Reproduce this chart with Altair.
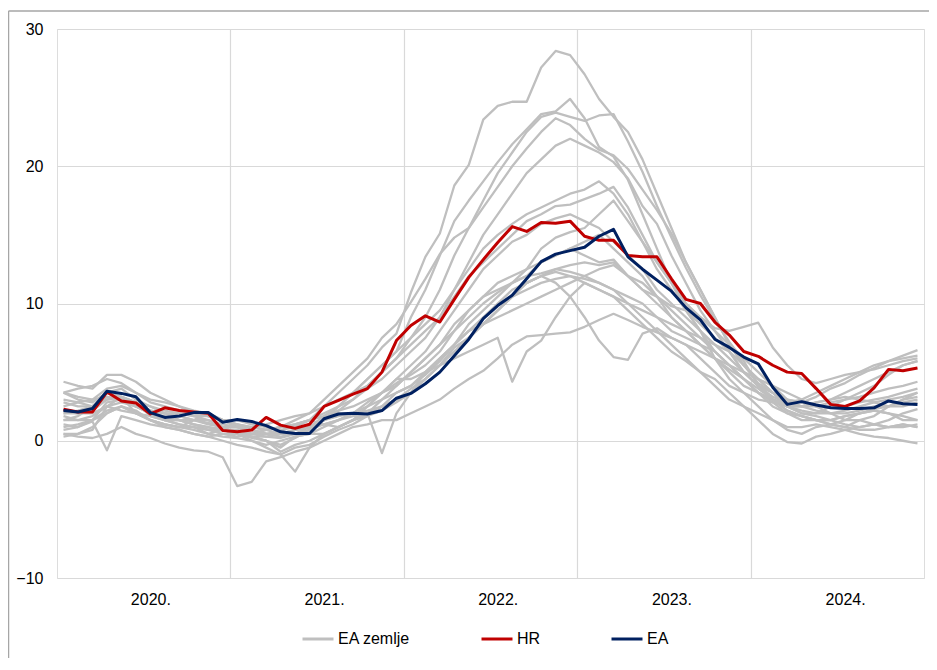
import altair as alt
import pandas as pd

# ---------------- data ----------------
year_labels = ["2020.", "2021.", "2022.", "2023.", "2024."]
series_names = ["EA zemlje", "HR", "EA"]
series_colors = ["#bfbfbf", "#c00000", "#002060"]
y_ticks = [-10, 0, 10, 20, 30]

hr = [2.3, 2.1, 2.1, 3.55, 2.9, 2.75, 1.95, 2.4, 2.2, 2.1, 2.0, 0.75,
      0.65, 0.78, 1.7, 1.14, 0.9, 1.2, 2.5, 2.95, 3.4, 3.8, 5.0, 7.3,
      8.4, 9.1, 8.65, 10.3, 11.9, 13.2, 14.45, 15.6, 15.25, 15.9, 15.85, 16.0,
      14.9, 14.6, 14.6, 13.5, 13.4, 13.4, 11.8, 10.3, 10.0, 8.65, 7.7, 6.5,
      6.15, 5.5, 5.0, 4.9, 3.8, 2.65, 2.5, 2.9, 3.85, 5.2, 5.1, 5.3]

ea = [2.2, 2.1, 2.35, 3.6, 3.45, 3.2, 2.05, 1.7, 1.8, 2.05, 2.05, 1.35,
      1.55, 1.4, 1.1, 0.65, 0.53, 0.53, 1.6, 1.95, 2.0, 1.95, 2.2, 3.1,
      3.45, 4.15, 5.0, 6.2, 7.4, 8.9, 9.85, 10.6, 11.8, 13.05, 13.6, 13.85,
      14.1, 14.9, 15.4, 13.4, 12.5, 11.7, 10.9, 9.7, 8.8, 7.4, 6.8, 6.1,
      5.6, 3.9, 2.65, 2.85, 2.6, 2.4, 2.35, 2.35, 2.4, 2.9, 2.7, 2.65]

ea_c01 = [4.3, 4.0, 3.8, 4.8, 4.8, 4.3, 3.5, 3.0, 2.5, 2.0, 1.8, 1.5,
          1.2, 0.8, 0.5, 0.7, 1.2, 1.5, 2.5, 3.5, 4.5, 5.5, 6.8, 7.8,
          10.8, 13.4, 15.1, 18.6, 20.1, 23.4, 24.4, 24.7, 24.7, 27.2, 28.4, 28.1,
          26.7, 24.9, 23.6, 22.5, 20.5, 18.0, 15.5, 13.0, 11.0, 9.0, 7.0, 5.5,
          4.2, 3.5, 3.0, 2.8, 3.2, 3.8, 4.2, 4.8, 5.3, 5.8, 6.2, 6.6]
ea_c02 = [3.5, 3.2, 3.0, 3.8, 4.0, 3.5, 2.8, 2.5, 2.2, 2.0, 1.8, 1.5,
          1.0, 0.5, 0.3, 0.2, 0.5, 1.0, 1.8, 2.5, 3.5, 4.5, 5.5, 6.5,
          9.0, 11.0, 13.5, 16.0, 17.5, 18.9, 20.3, 21.6, 22.7, 23.8, 24.0, 24.9,
          23.5, 21.4, 20.7, 19.0, 16.5, 14.0, 11.5, 9.5, 8.0, 6.0, 4.5, 3.5,
          2.5, 1.5, 0.8, 0.5, 1.0, 1.2, 1.5, 2.0, 2.3, 2.5, 3.0, 3.5]
ea_c03 = [2.8, 2.5, 2.5, 3.0, 3.2, 2.8, 2.2, 2.0, 1.5, 1.2, 0.8, 0.5,
          0.3, 0.5, 0.8, 1.0, 1.5, 2.0, 3.0, 4.0, 5.0, 6.0, 7.5, 8.5,
          10.1, 11.8, 13.6, 14.8, 15.5, 17.5, 19.5, 21.0, 22.5, 23.6, 23.9, 23.6,
          23.3, 23.7, 23.8, 21.8, 19.6, 17.1, 14.8, 12.6, 10.6, 8.8, 7.2, 5.8,
          4.0, 3.0, 2.2, 1.8, 1.5, 1.2, 1.0, 1.5, 1.8, 2.5, 3.0, 3.2]
ea_c04 = [2.0, 2.2, 2.5, 3.5, 3.8, 3.0, 2.5, 2.0, 1.8, 1.5, 1.3, 1.0,
          0.5, 0.2, 0.0, -0.3, 0.2, 0.8, 1.5, 2.2, 3.0, 4.0, 5.0, 6.0,
          7.5, 9.0, 11.0, 13.5, 15.5, 17.0, 18.5, 20.0, 21.3, 22.5, 23.5, 23.0,
          22.0, 21.2, 20.8, 19.8, 18.3, 16.8, 15.1, 13.0, 11.0, 9.0, 7.0, 5.5,
          4.5, 3.5, 2.5, 2.0, 2.0, 2.5, 3.0, 3.2, 3.5, 3.8, 4.0, 4.3]
ea_c05 = [1.5, 1.5, 1.8, 2.5, 2.8, 2.5, 2.0, 1.8, 1.5, 1.2, 1.0, 0.8,
          0.5, 0.5, 0.8, 1.0, 1.2, 1.5, 2.0, 2.5, 3.0, 3.8, 4.5, 5.5,
          6.5, 7.5, 9.0, 11.0, 13.0, 15.0, 16.5, 18.0, 19.5, 20.5, 21.5, 22.0,
          21.5, 21.0, 20.3, 19.1, 17.1, 15.8, 13.5, 11.5, 9.5, 8.0, 6.5, 5.0,
          4.0, 3.2, 2.8, 2.5, 2.5, 2.8, 3.0, 3.5, 4.0, 4.8, 5.5, 5.8]
ea_c06 = [3.5, 3.8, 4.0, 4.5, 4.2, 3.5, 3.0, 2.8, 2.5, 2.2, 2.0, 1.5,
          1.0, 0.8, 0.5, 0.5, 0.8, 1.0, 1.5, 2.5, 3.5, 4.5, 5.5, 6.5,
          7.5, 8.5, 9.5, 11.0, 12.5, 14.0, 15.0, 15.8, 16.5, 17.0, 17.5, 18.0,
          18.3, 18.9, 18.0, 16.5, 14.5, 12.5, 11.0, 9.5, 8.0, 6.5, 5.5, 4.5,
          3.5, 3.0, 2.8, 3.0, 3.5, 4.0, 4.5, 5.0, 5.5, 5.8, 6.0, 6.2]
ea_c07 = [2.5, 2.8, 3.0, 3.2, 3.0, 2.5, 2.2, 2.0, 2.0, 1.8, 1.5, 1.2,
          1.0, 1.0, 1.2, 1.5, 1.8, 2.0, 2.5, 3.0, 3.5, 4.0, 5.0, 6.0,
          7.0, 8.0, 9.0, 10.5, 12.0, 13.0, 14.0, 15.0, 16.0, 16.5, 17.1, 17.2,
          17.6, 18.0, 18.5, 17.0, 15.0, 13.0, 11.5, 10.0, 9.0, 8.2, 8.0, 8.3,
          8.6, 6.8, 5.5, 4.5, 4.2, 4.5, 4.8, 5.0, 5.2, 5.5, 5.8, 6.0]
ea_c08 = [2.0, 2.0, 2.2, 3.0, 3.2, 2.8, 1.8, 1.5, 1.5, 1.5, 1.5, 1.0,
          1.2, 1.0, 0.8, 0.5, 0.5, 0.8, 1.5, 2.0, 2.0, 2.2, 2.5, 3.5,
          4.0, 4.8, 5.8, 7.0, 8.5, 9.5, 10.5, 11.5, 12.5, 14.0, 14.8, 15.2,
          15.5, 16.5, 17.5, 16.0, 14.5, 13.0, 11.5, 10.0, 9.0, 8.0, 7.0, 6.0,
          5.0, 4.0, 3.0, 2.8, 2.5, 2.5, 2.5, 2.8, 3.0, 3.2, 3.5, 3.8]
ea_c09 = [1.8, 1.5, 1.5, 2.2, 2.5, 2.2, 1.5, 1.2, 1.0, 1.0, 0.8, 0.8,
          0.8, 0.5, 0.5, 0.3, 0.5, 0.8, 1.2, 1.5, 2.0, 2.5, 3.5, 4.5,
          5.5, 6.5, 8.0, 9.5, 11.0, 12.5, 13.5, 14.5, 15.0, 15.8, 16.2, 16.5,
          16.0, 15.5, 14.5, 13.5, 12.5, 11.0, 10.0, 9.0, 8.0, 7.0, 6.0, 5.0,
          4.0, 3.5, 3.0, 2.5, 2.2, 2.0, 2.0, 2.2, 2.5, 2.5, 2.8, 3.0]
ea_c10 = [1.5, 1.8, 2.5, 3.5, 3.2, 2.8, 2.5, 2.2, 2.0, 1.8, 1.8, 1.5,
          1.2, 1.0, 0.8, 1.0, 1.2, 1.5, 1.8, 2.2, 2.5, 3.0, 3.5, 4.2,
          4.8, 5.5, 6.5, 8.0, 9.5, 10.5, 11.0, 11.5, 12.0, 13.0, 13.5, 14.0,
          13.5, 13.0, 13.2, 12.0, 11.0, 10.5, 9.5, 8.5, 7.5, 6.5, 5.5, 4.5,
          3.8, 3.0, 2.5, 2.2, 2.0, 2.0, 2.2, 2.5, 2.8, 3.0, 3.2, 3.5]
ea_c11 = [0.8, 1.0, 1.5, 2.8, 3.0, 2.5, 2.0, 1.5, 1.2, 1.0, 0.5, 0.3,
          0.2, 0.0, -0.3, 0.0, 0.3, 0.5, 1.0, 1.5, 2.0, 2.8, 3.5, 4.0,
          5.0, 6.0, 7.0, 8.0, 9.0, 10.0, 10.8, 11.5, 12.0, 12.2, 12.5, 12.8,
          13.0, 12.8, 13.0, 12.0, 11.0, 10.0, 9.0, 8.0, 7.0, 6.0, 5.2, 4.5,
          3.5, 2.8, 2.0, 1.8, 1.5, 1.5, 1.8, 2.0, 2.2, 2.0, 1.8, 1.5]
ea_c12 = [0.5, 0.5, 0.8, 2.5, 3.2, 2.0, 1.5, 1.2, 1.0, 0.8, 0.5, 0.8,
          0.5, 0.3, 0.0, -0.5, 0.3, 0.5, 0.5, 1.0, 1.5, 1.8, 2.2, 2.8,
          3.5, 4.5, 5.5, 6.8, 7.5, 8.5, 9.5, 10.5, 11.5, 12.0, 12.5, 12.3,
          12.0, 12.5, 12.8, 12.0, 11.5, 10.5, 9.8, 9.5, 8.5, 7.5, 6.5, 5.5,
          4.5, 3.5, 2.5, 2.0, 1.8, 1.5, 1.2, 1.0, 1.2, 1.5, 2.0, 2.3]
ea_c13 = [1.2, 1.0, 1.4, -0.7, 1.8, 1.5, 1.2, 1.0, 0.8, 0.5, 0.3, 0.5,
          0.5, 0.3, 0.3, 0.5, 0.8, 1.0, 1.2, 1.5, 1.8, 2.0, 2.5, 3.0,
          3.8, 4.5, 5.5, 6.5, 7.5, 8.5, 9.5, 10.5, 11.5, 12.0, 12.3, 12.0,
          11.5, 11.0, 10.5, 10.0, 9.5, 9.0, 8.5, 8.0, 7.5, 7.0, 6.5, 5.0,
          4.0, 3.0, 2.2, 1.8, 1.5, 1.2, 1.0, 0.8, 0.8, 1.0, 1.2, 1.0]
ea_c14 = [3.0, 2.8, 2.5, 3.2, 3.0, 2.5, 2.0, 1.5, 1.5, 1.2, 1.0, 0.8,
          0.5, 0.3, 0.0, -0.8, -0.3, 0.0, 0.5, 1.0, 1.5, 2.5, 3.5, 4.5,
          4.5, 5.0, 5.5, 6.0, 6.5, 7.0, 7.5, 4.3, 6.5, 7.3, 9.0, 10.5,
          11.5, 11.0, 10.5, 9.5, 8.5, 7.5, 6.5, 5.8, 5.0, 4.5, 3.5, 2.5,
          1.5, 0.5, -0.1, -0.2, 0.3, 0.5, 0.8, 1.0, 1.2, 1.0, 1.2, 1.0]
ea_c15 = [0.5, 0.3, 0.2, 0.5, 1.0, 0.5, 0.2, -0.2, -0.5, -0.7, -0.8, -1.2,
          -3.3, -3.0, -1.5, -1.2, -0.8, -0.5, 0.0, 0.5, 1.0, 1.2, 1.5, 1.5,
          2.0, 2.5, 3.0, 3.8, 4.5, 5.1, 6.0, 7.0, 7.6, 7.7, 7.8, 7.9,
          8.3, 8.8, 9.25, 8.8, 8.3, 7.9, 7.5, 7.0, 6.5, 6.0, 5.5, 5.0,
          4.5, 4.0, 3.5, 3.0, 2.5, 2.0, 1.5, 1.5, 1.2, 1.0, 1.0, 1.2]
ea_c16 = [2.2, 2.0, 2.0, 2.5, 2.2, 2.0, 1.8, 1.5, 1.2, 1.0, 0.8, 1.0,
          1.0, 0.8, 0.5, 0.5, 0.8, 1.0, 1.5, 1.8, 2.0, 2.5, 3.0, 3.5,
          4.0, 5.0, 6.0, 7.0, 8.0, 9.0, 10.0, 11.0, 11.5, 12.0, 11.5, 10.5,
          9.0, 7.3, 6.1, 5.9, 7.8, 8.2, 7.5, 7.0, 6.0, 5.0, 4.0, 3.5,
          3.0, 2.8, 2.5, 2.5, 2.8, 3.0, 3.2, 3.0, 2.8, 2.5, 2.5, 2.8]
ea_c17 = [1.0, 1.2, 1.5, 2.0, 2.5, 2.0, 1.5, 1.0, 0.8, 0.5, 0.3, 0.0,
          -0.3, -0.5, -0.8, -1.0, -0.5, -0.3, 0.3, 0.8, 1.2, 1.8, 2.5, 3.0,
          3.5, 4.5, 5.5, 6.5, 7.5, 8.5, 9.5, 10.5, 11.0, 11.5, 11.8, 12.0,
          11.8, 11.5, 11.0, 10.0, 9.0, 8.0, 7.0, 6.0, 5.0, 4.0, 3.0, 2.5,
          2.0, 1.5, 1.0, 1.0, 1.2, 1.0, 0.8, 0.5, 0.3, 0.2, 0.0, -0.2]
ea_c18 = [3.5, 3.0, 2.8, 3.5, 3.0, 2.5, 2.2, 2.0, 1.8, 1.5, 1.2, 1.0,
          0.5, 0.0, -0.5, -1.0, -2.25, -0.5, 0.5, 1.0, 1.5, 2.0, 3.0, 4.0,
          5.0, 6.0, 7.0, 8.5, 9.5, 10.5, 11.5, 12.0, 12.5, 13.0, 13.5, 14.0,
          14.5, 15.0, 14.0, 13.0, 12.0, 10.5, 9.0, 8.0, 7.0, 6.0, 5.0, 4.0,
          3.5, 3.0, 2.5, 2.5, 2.8, 3.0, 3.5, 4.0, 4.5, 5.0, 5.5, 5.8]
ea_c19 = [0.3, 0.5, 1.0, 2.0, 2.5, 2.0, 1.5, 1.2, 1.0, 1.5, 2.0, 1.5,
          1.5, 1.2, 1.0, 0.8, 1.0, 1.5, 1.2, 1.0, 1.5, 2.0, -0.9, 2.0,
          3.5, 5.0, 6.0, 7.0, 8.0, 8.5, 9.0, 9.5, 10.0, 10.5, 11.0, 11.5,
          12.0, 11.5, 11.0, 10.5, 10.0, 9.0, 8.0, 7.5, 7.0, 6.5, 5.5, 4.5,
          3.5, 2.5, 2.0, 1.5, 1.5, 1.5, 1.8, 2.0, 2.2, 2.0, 1.5, 1.5]

countries = [ea_c01, ea_c02, ea_c03, ea_c04, ea_c05, ea_c06, ea_c07, ea_c08,
             ea_c09, ea_c10, ea_c11, ea_c12, ea_c13, ea_c14, ea_c15, ea_c16,
             ea_c17, ea_c18, ea_c19]

# ---------------- table ----------------
rows = []
for k, vals in enumerate(countries):
    for i, v in enumerate(vals):
        rows.append({"m": i, "v": v, "s": "c%02d" % (k + 1), "g": series_names[0]})
for i, v in enumerate(hr):
    rows.append({"m": i, "v": v, "s": "HR", "g": series_names[1]})
for i, v in enumerate(ea):
    rows.append({"m": i, "v": v, "s": "EA", "g": series_names[2]})
df = pd.DataFrame(rows)

n = len(ea)
per_year = 12
mid_ticks = [per_year * k + 6 for k in range(len(year_labels))]
bound_ticks = [per_year * k - 0.5 for k in range(1, len(year_labels))]
x_ticks = sorted(mid_ticks + bound_ticks)
label_array = "[" + ",".join("'%s'" % s for s in year_labels) + "]"
label_expr = "datum.value %% 12 == 6 ? %s[floor(datum.value / 12)] : ''" % label_array

FONT = "Liberation Sans"

x_enc = alt.X(
    "m:Q",
    scale=alt.Scale(domain=[-0.45, n - 0.55], nice=False, zero=False),
    axis=alt.Axis(
        values=x_ticks, labelExpr=label_expr, title=None, grid=True,
        gridColor="#d9d9d9", gridWidth=1.2,
        gridOpacity={"condition": {"test": "datum.value % 12 == 6", "value": 0}, "value": 1},
        ticks=False, domain=False, labelPadding=13, labelFontSize=16,
        labelColor="#000000", labelOverlap=False, labelFlush=False, labelFont=FONT,
    ),
)
y_enc = alt.Y(
    "v:Q",
    scale=alt.Scale(domain=[-10, 30], nice=False, zero=False),
    axis=alt.Axis(
        values=y_ticks, title=None, grid=True, gridColor="#d9d9d9", gridWidth=1.2,
        ticks=False, domain=False, labelPadding=14, labelFontSize=16,
        labelColor="#000000", labelFont=FONT,
    ),
)
color_enc = alt.Color(
    "g:N",
    scale=alt.Scale(domain=series_names, range=series_colors),
    sort=series_names,
    legend=alt.Legend(
        title=None, orient="none", legendX=244, legendY=593, direction="horizontal",
        symbolType="stroke", symbolSize=961, symbolStrokeWidth=3,
        labelFontSize=16, labelFont=FONT, labelColor="#000000",
        columnPadding=64, labelOffset=3,
    ),
)

base = alt.Chart(df)
gray = base.transform_filter(alt.datum.g == series_names[0]).mark_line(
    strokeWidth=2.3, strokeJoin="round"
).encode(x=x_enc, y=y_enc, color=color_enc, detail="s:N")
red = base.transform_filter(alt.datum.g == series_names[1]).mark_line(
    strokeWidth=3, strokeJoin="round"
).encode(x=x_enc, y=y_enc, color=color_enc)
navy = base.transform_filter(alt.datum.g == series_names[2]).mark_line(
    strokeWidth=3, strokeJoin="round"
).encode(x=x_enc, y=y_enc, color=color_enc)

frame_df = pd.DataFrame({"f": [0]})
frame_top = alt.Chart(frame_df).mark_rule(color="#a6a6a6", strokeWidth=1.5).encode(
    x=alt.value(-48.5), x2=alt.value(872), y=alt.value(-18)
)
frame_left = alt.Chart(frame_df).mark_rule(color="#a6a6a6", strokeWidth=1.5).encode(
    x=alt.value(-48.5), y=alt.value(-18), y2=alt.value(640)
)

chart = (
    alt.layer(frame_top, frame_left, gray, red, navy)
    .properties(
        width=867, height=549,
        autosize=alt.AutoSizeParams(type="none"),
        padding={"left": 49, "top": 21, "right": 5, "bottom": 80},
        background="white",
    )
    .configure_view(stroke="#c0c0c0", strokeWidth=1.5)
    .configure(font=FONT)
)

chart.save("out.html", embed_options={"renderer": "svg", "actions": False})
